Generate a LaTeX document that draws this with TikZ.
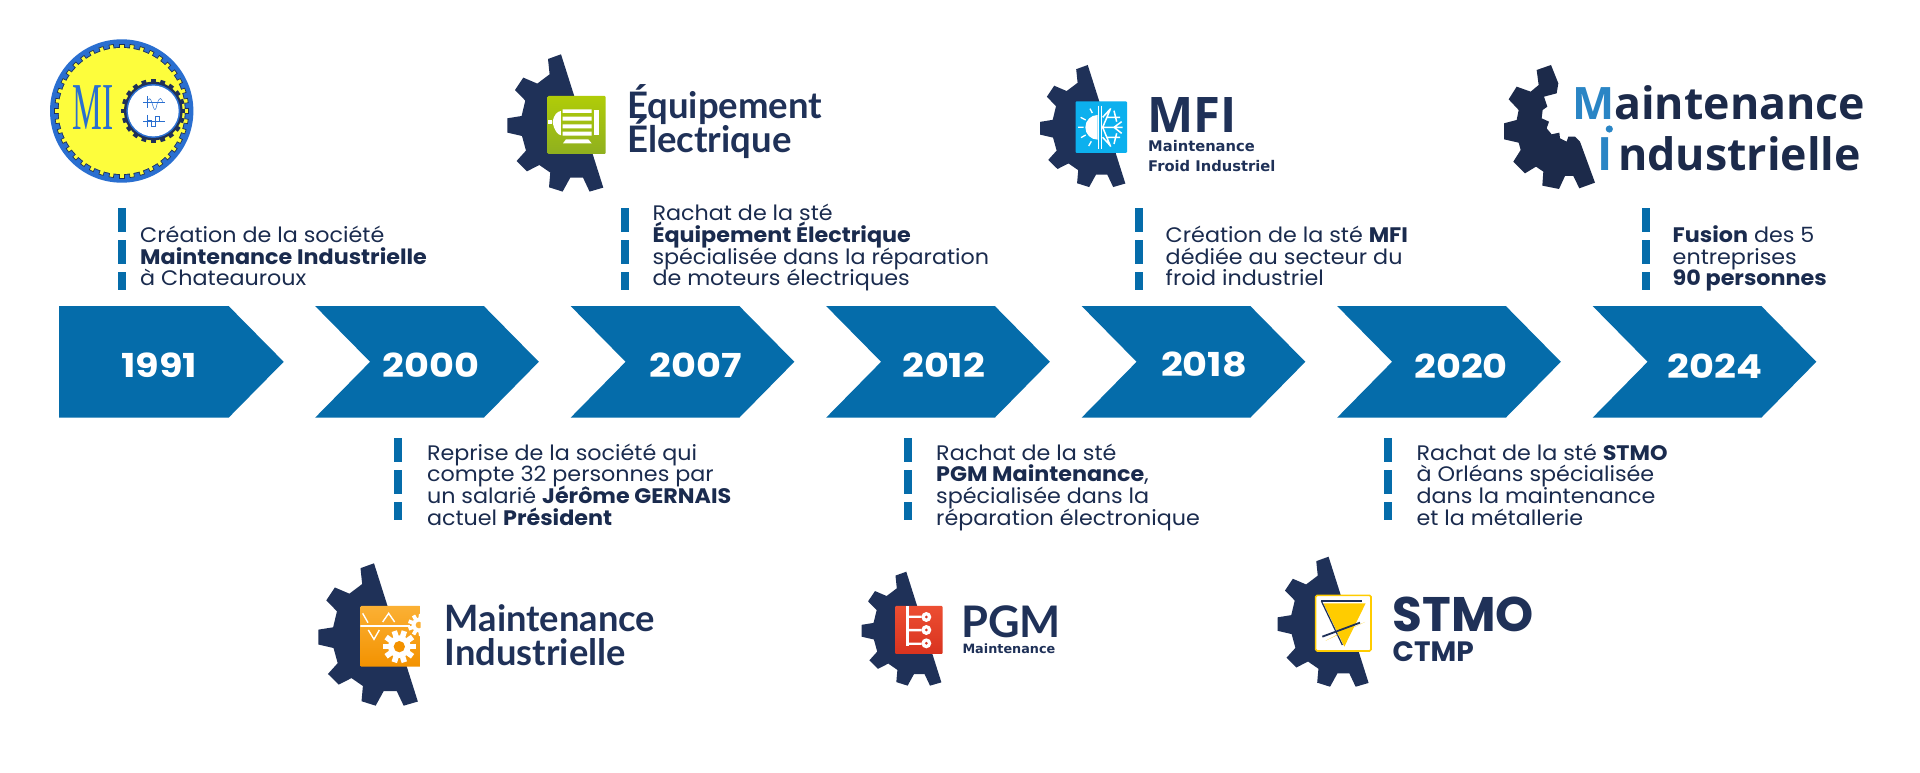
\documentclass[tikz,border=0pt]{standalone}
\usepackage{fontspec}
\setmainfont{Poppins}
\newfontfamily\latof{Lato}
\newfontfamily\opensf{Open Sans}
\newfontfamily\dejaf{DejaVu Sans}
\newfontfamily\serf{Liberation Serif}
\newcommand{\nolskip}{\lineskiplimit=-40pt\relax}
\definecolor{navy}{HTML}{1F3158}
\definecolor{ink}{HTML}{1A2B4E}
\definecolor{darkgear}{HTML}{1C2A4A}
\definecolor{chev}{HTML}{056CAA}
\definecolor{ringb}{HTML}{2A6FD0}
\definecolor{miyel}{HTML}{FDFD3C}
\definecolor{mblue}{HTML}{2A85C5}
\definecolor{grtop}{HTML}{B0CC08}
\definecolor{grbot}{HTML}{8FB01F}
\definecolor{coldb}{HTML}{0CB0EE}
\definecolor{ortop}{HTML}{FBB034}
\definecolor{orbot}{HTML}{F39200}
\definecolor{rdtop}{HTML}{EC4E32}
\definecolor{rdbot}{HTML}{D9331F}
\definecolor{styel}{HTML}{FFCC00}
\tikzset{
  x=1pt,y=-1pt,
  chevfill/.style={fill=chev,draw=none},
  yearlab/.style={font=\fontsize{33}{33}\selectfont\bfseries,text=white,anchor=base,inner sep=0pt,xscale=1.16},
  desc/.style={font=\fontsize{21}{21.6}\selectfont\nolskip,text=ink,anchor=base west,align=left,inner sep=0pt,xscale=1.06},
  dashbar/.style={chev,line width=8pt,dash pattern=on 24pt off 8pt},
  logot/.style={anchor=base west,inner sep=0pt,text=navy,align=left},
  gearlogo/.pic={\fill[navy] (53.7,0)--(40.7,4.7)--(42.3,20)--(30,29.3)--(16,23.3)--(7.7,35.7)--(18,46.3)--(14.3,61.7)--(0,64)--(0,78.3)--(14.7,81.7)--(18.7,96.3)--(9.3,106.7)--(19.7,117)--(32,110.7)--(43,118.3)--(41.7,133)--(55.3,137.3)--(63,123.3)--(75.7,123.3)--(82.3,137.3)--(96,133.3)--cycle;}
}
\newcommand{\chevron}[1]{\fill[chevfill] (#1,306)--(#1+168.7,306)--(#1+223.7,361.8)--(#1+168.7,417.7)--(#1,417.7)--(#1+55,361.8)--cycle;}
% cx cy R r n : white cog, outer radius R, body radius r, n teeth
\newcommand{\cog}[5]{%
  \fill[white] (#1,#2) circle[radius=#4];
  \pgfmathsetmacro{\cogstep}{360/#5}
  \foreach \k in {1,...,#5}{
    \pgfmathsetmacro{\cogang}{\k*\cogstep}
    \fill[white,rotate around={\cogang:(#1,#2)}] (#1+#4-2,#2-#3*0.17) rectangle (#1+#3,#2+#3*0.17);
  }
}
\begin{document}
\begin{tikzpicture}
\useasboundingbox (0,0) rectangle (1920,773);
\fill[white] (0,0) rectangle (1920,773);
% chevrons
\fill[chevfill] (59,306)--(228.6,306)--(283.7,361.8)--(228.6,417.7)--(59,417.7)--cycle;
\chevron{315.1}\chevron{570.6}\chevron{826.1}\chevron{1081.6}\chevron{1337.1}\chevron{1592.6}
\node[yearlab] (y1991) at (159,377) {1991};
\node[yearlab] (y2000) at (431,377) {2000};
\node[yearlab] (y2007) at (695.5,377) {2007};
\node[yearlab] (y2012) at (943.7,377) {2012};
\node[yearlab] (y2018) at (1204,376.7) {2018};
\node[yearlab] (y2020) at (1461,378) {2020};
\node[yearlab] (y2024) at (1715,378) {2024};
% bars
\draw[dashbar] (122,208)--(122,290);
\draw[dashbar] (398,438)--(398,520);
\draw[dashbar] (625,208)--(625,290);
\draw[dashbar] (907.5,438)--(907.5,520);
\draw[dashbar] (1138.5,208)--(1138.5,290);
\draw[dashbar] (1388,438)--(1388,520);
\draw[dashbar] (1646,208)--(1646,290);
% descriptions
\node[desc] (t1) at (140,285.7) {Création de la société\\\textbf{Maintenance Industrielle}\\à Chateauroux};
\node[desc] (t2) at (426.8,525) {Reprise de la société qui\\compte 32 personnes par\\un salarié \textbf{Jérôme GERNAIS}\\actuel \textbf{Président}};
\node[desc] (t3) at (652.3,285.7) {Rachat de la sté\\\textbf{Équipement Électrique}\\spécialisée dans la réparation\\de moteurs électriques};
\node[desc] (t4) at (936,525) {Rachat de la sté\\\textbf{PGM Maintenance},\\spécialisée dans la\\réparation électronique};
\node[desc] (t5) at (1165.5,285.7) {Création de la sté \textbf{MFI}\\dédiée au secteur du\\froid industriel};
\node[desc] (t6) at (1416.4,525) {Rachat de la sté \textbf{STMO}\\à Orléans spécialisée\\dans la maintenance\\et la métallerie};
\node[desc] (t7) at (1672.5,285.7) {\textbf{Fusion} des 5\\entreprises\\\textbf{90 personnes}};
% logo 1991
\fill[ringb] (121.7,111) circle[radius=71.7];
\draw[navy,line width=.8pt] (121.7,111) circle[radius=63.5];
\foreach \a in {0,9,...,351}{
  \filldraw[fill=miyel,draw=navy,line width=.7pt,rotate around={\a:(121.7,111)}] (121.7+60,108.8) rectangle (121.7+67,113.2);
}
\fill[miyel] (121.7,111) circle[radius=63];
\foreach \a in {0,18,...,342}{
  \fill[navy,rotate around={\a:(153.3,111)}] (153.3+27,108.6) rectangle (153.3+32,113.4);
}
\fill[navy] (153.3,111) circle[radius=29.3];
\fill[ringb] (153.3,111) circle[radius=27];
\fill[white] (153.3,111) circle[radius=25.4];
\node[anchor=base,inner sep=0pt,text=ringb,xscale=.5,font=\serf\fontsize{67}{67}\selectfont] (milogo) at (93.3,130) {MI};
\begin{scope}[scale=.3333,line width=.5pt,ringb]
  \draw (430,306)--(495,306) (430,363)--(495,363) (443,288)--(443,325) (443,345)--(443,382);
  \draw (445,300) .. controls (455,280) and (460,345) .. (468,325) .. controls (472,310) and (478,280) .. (488,305);
  \draw (445,362)--(455,362)--(455,380)--(467,380)--(467,348)--(478,348)--(478,362);
\end{scope}
% gears
\pic (g1) at (507.3,54.3) {gearlogo};
\pic[scale=.889] (g2) at (1040,65) {gearlogo};
\pic[scale=1.037] (g3) at (318.3,563.3) {gearlogo};
\pic[scale=.83] (g4) at (861.7,571.7) {gearlogo};
\pic[scale=.947] (g5) at (1277.7,556.7) {gearlogo};
% final gear
\begin{scope}[shift={(1480,40)},scale=.3333]
  \fill[darkgear] (213,75)--(170,90)--(176,135)--(152,155)--(110,140)--(86,178)--(116,210)--(110,240)--(72,250)--(72,298)--(116,308)--(122,330)--(100,365)--(135,400)--(168,380)--(190,395)--(187,437)--(237,447)--(255,408)--(280,408)--(298,445)--(345,428)--(300,305)--(285,290)--(265,290)--(260,305)--(240,295)--(238,278)--(215,283)--(200,265)--(207,245)--(185,235)--(188,210)--(202,200)--(192,170)--(230,160)--(235,130)--cycle;
\end{scope}
% icon: equipement
\begin{scope}[shift={(480,30)},scale=.3333]
  \shade[rounded corners=1pt,top color=grtop,bottom color=grbot] (203,198) rectangle (377,372);
  \fill[white] (248,238) rectangle (335,249) (248,260) rectangle (335,272) (248,283) rectangle (335,295) (248,305) rectangle (335,317);
  \fill[white] (203,270) rectangle (215,282);
  \fill[white] (218,276) .. controls (222,252) and (232,245) .. (243,243) -- (243,316) .. controls (232,314) and (222,300) .. (218,276) -- cycle;
  \fill[white] (341,240) rectangle (358,315);
  \fill[white] (258,328) -- (325,328) -- (335,340) -- (249,340) -- cycle;
\end{scope}
% icon: MFI
\begin{scope}[shift={(1020,40)},scale=.3333]
  \fill[rounded corners=1pt,fill=coldb] (167,184) rectangle (321,339);
  \fill[white] (233,225) arc[start angle=-90,end angle=-270,radius=37] -- cycle;
  \draw[white,line width=1.3pt] (210,206)--(217,219) (182,232)--(197,240) (174,262)--(191,262) (183,293)--(197,285) (206,318)--(214,304);
  \draw[white,line width=1.3pt] (235,197)--(235,326) (244,197)--(244,326);
  \draw[white,line width=1.5pt] (248,262)--(308,262) (248,262)--(272,205) (248,262)--(272,320)
    (248,232)--(270,208) (248,292)--(270,316)
    (262,232)--(300,232) (262,292)--(300,292)
    (282,212)--(290,245) (282,312)--(290,280) (282,262)--(305,245) (282,262)--(305,280);
\end{scope}
% icon: maintenance
\begin{scope}[shift={(300,550)},scale=.3333]
  \shade[rounded corners=1pt,top color=ortop,bottom color=orbot] (181,168) rectangle (362,350);
  \begin{scope}
    \clip (181,168) rectangle (362,350);
    \draw[white,line width=1.2pt] (181,228)--(330,228);
    \draw[white,line width=1.4pt] (188,190)--(204,218) (205,240)--(222,268)--(238,240) (248,216)--(266,190)--(284,216);
    \cog{298}{290}{49}{34}{10}
    \fill[orbot] (298,290) circle[radius=17];
    \cog{357}{225}{33}{22}{9}
    \fill[ortop] (357,225) circle[radius=10];
  \end{scope}
\end{scope}
% icon: PGM
\begin{scope}[shift={(840,550)},scale=.3333]
  \shade[rounded corners=1pt,top color=rdtop,bottom color=rdbot] (165,168) rectangle (308,312);
  \fill[white] (197,168) rectangle (207,288);
  \fill[white] (207,197) rectangle (245,204) (207,237) rectangle (245,244) (207,278) rectangle (245,285);
  \foreach \yy in {201,240,280}{
    \fill[white] (259,\yy) circle[radius=15];
    \fill[rdbot] (259,\yy) circle[radius=4.5];
  }
\end{scope}
% icon: STMO
\begin{scope}[shift={(1260,550)},scale=.3333]
  \filldraw[fill=white,draw=styel,line width=1.6pt,rounded corners=1.5pt] (167,136) rectangle (333,303);
  \fill[styel] (190,160)--(317,160)--(253,290)--cycle;
  \draw[navy,line width=1.4pt] (183,153)--(307,153);
  \draw[navy,line width=1.2pt] (184,153)--(247,285);
  \draw[navy,line width=1.8pt] (187,260)--(300,218);
  \fill[styel] (197,272)--(315,216)--(230,255)--cycle;
\end{scope}
% logo texts
\node[logot,font=\latof\bfseries\fontsize{36.5}{33.3}\selectfont\nolskip] (leq) at (627,152.3) {Équipement\\Électrique};
\node[logot,font=\latof\bfseries\fontsize{36.3}{34}\selectfont\nolskip] (lmi) at (444.5,665) {Maintenance\\Industrielle};
\node[logot,font=\opensf\bfseries\fontsize{49}{49}\selectfont] (lmfi) at (1147,132.3) {MFI};
\node[logot,font=\dejaf\bfseries\fontsize{14.7}{20}\selectfont\nolskip] (lmfis) at (1148,171.7) {Maintenance\\Froid Industriel};
\node[logot,font=\latof\bfseries\fontsize{43.5}{43.5}\selectfont] (lpgm) at (961,637.3) {PGM};
\node[logot,font=\dejaf\bfseries\fontsize{12.8}{12.8}\selectfont] (lpgms) at (962.3,653.3) {Maintenance};
\node[logot,font=\bfseries\fontsize{48.5}{48.5}\selectfont] (lstmo) at (1392.5,631) {STMO};
\node[logot,font=\bfseries\fontsize{28}{28}\selectfont] (lctmp) at (1392.5,661) {CTMP};
\node[logot,text=darkgear,font=\opensf\bfseries\fontsize{44.7}{44.7}\selectfont] (lfin1) at (1572,119.3) {\textcolor{mblue}{M}aintenance};
\node[logot,text=mblue,anchor=base east,font=\opensf\bfseries\fontsize{46}{46}\selectfont] (lfin2) at (1612.7,170.7) {I};
\node[logot,text=darkgear,font=\opensf\bfseries\fontsize{44.7}{44.7}\selectfont] (lfin3) at (1618,170.7) {ndustrielle};
\fill[mblue] (1609.3,129) circle[radius=3.6];
\end{tikzpicture}
\end{document}
